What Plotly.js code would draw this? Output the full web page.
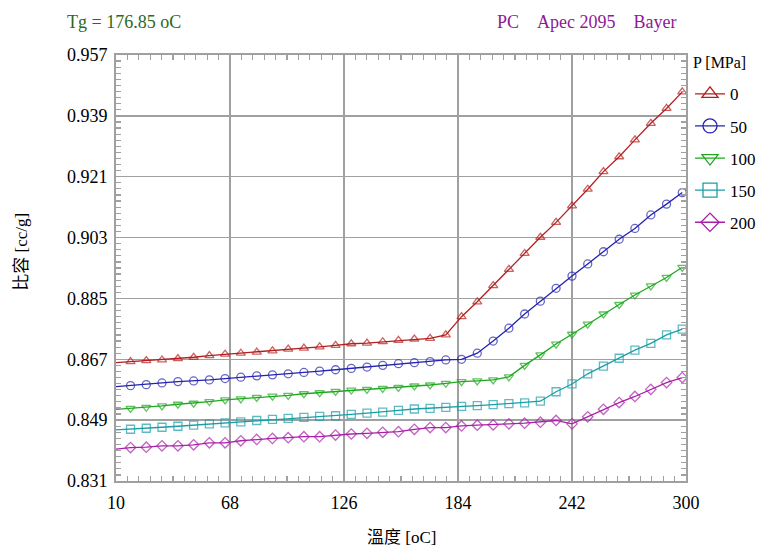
<!DOCTYPE html>
<html>
<head>
<meta charset="utf-8">
<script src="https://cdn.plot.ly/plotly-3.0.1.min.js"></script>
<style>html,body{margin:0;padding:0;background:#fff;}#chart{width:757px;height:549px;}</style>
</head>
<body>
<div id="chart"></div>
<script>
// Temperature [oC]
const temps = [10, 17.4, 25.4, 33.4, 41.5, 49.5, 57.5, 65.5, 73.5, 81.6, 89.6, 97.6, 105.6, 113.6, 121.7, 129.7, 137.7, 145.7, 153.7, 161.8, 169.8, 177.8, 185.8, 193.8, 201.9, 209.9, 217.9, 225.9, 233.9, 242.0, 250.0, 258.0, 266.0, 274.0, 282.1, 290.1, 298.1];
// Specific volume [cc/g] by pressure
const p0 = [0.8660, 0.8663, 0.8666, 0.8668, 0.8672, 0.8676, 0.8681, 0.8685, 0.8688, 0.8691, 0.8695, 0.8700, 0.8703, 0.8707, 0.8711, 0.8716, 0.8718, 0.8722, 0.8726, 0.8730, 0.8732, 0.8742, 0.8796, 0.8840, 0.8888, 0.8936, 0.8983, 0.9031, 0.9075, 0.9124, 0.9173, 0.9225, 0.9269, 0.9319, 0.9368, 0.9412, 0.9461];
const p50 = [0.8589, 0.8592, 0.8595, 0.8600, 0.8604, 0.8606, 0.8609, 0.8613, 0.8617, 0.8621, 0.8624, 0.8627, 0.8631, 0.8635, 0.8639, 0.8643, 0.8647, 0.8652, 0.8657, 0.8660, 0.8663, 0.8668, 0.8670, 0.8688, 0.8724, 0.8762, 0.8804, 0.8842, 0.8880, 0.8916, 0.8952, 0.8988, 0.9025, 0.9057, 0.9097, 0.9129, 0.9163];
const p100 = [0.8522, 0.8525, 0.8528, 0.8532, 0.8537, 0.8540, 0.8545, 0.8550, 0.8553, 0.8557, 0.8561, 0.8563, 0.8568, 0.8571, 0.8575, 0.8579, 0.8581, 0.8584, 0.8587, 0.8591, 0.8594, 0.8599, 0.8604, 0.8606, 0.8609, 0.8618, 0.8652, 0.8683, 0.8715, 0.8744, 0.8774, 0.8804, 0.8832, 0.8860, 0.8887, 0.8912, 0.8942];
const p150 = [0.8461, 0.8463, 0.8466, 0.8469, 0.8472, 0.8475, 0.8479, 0.8482, 0.8485, 0.8489, 0.8492, 0.8495, 0.8498, 0.8501, 0.8503, 0.8507, 0.8511, 0.8514, 0.8519, 0.8523, 0.8525, 0.8528, 0.8531, 0.8533, 0.8536, 0.8539, 0.8541, 0.8546, 0.8574, 0.8597, 0.8627, 0.8650, 0.8673, 0.8697, 0.8717, 0.8742, 0.8759];
const p200 = [0.8404, 0.8409, 0.8410, 0.8414, 0.8414, 0.8417, 0.8423, 0.8423, 0.8429, 0.8433, 0.8436, 0.8438, 0.8441, 0.8441, 0.8446, 0.8449, 0.8451, 0.8454, 0.8456, 0.8463, 0.8468, 0.8468, 0.8473, 0.8475, 0.8476, 0.8479, 0.8481, 0.8484, 0.8489, 0.8479, 0.8500, 0.8522, 0.8542, 0.8560, 0.8581, 0.8601, 0.8616];

const seriesNames = ['0', '50', '100', '150', '200'];
const seriesValues = [p0, p50, p100, p150, p200];
const xTickVals = [10, 68, 126, 184, 242, 300];
const yTickVals = [0.831, 0.849, 0.867, 0.885, 0.903, 0.921, 0.939, 0.957];

const colors = ['#b41e1e', '#2323b0', '#1fa81f', '#1a9ea6', '#a820a8'];
const symbols = ['triangle-up-open', 'circle-open', 'triangle-down-open', 'square-open', 'diamond-open'];
const serif = '"Liberation Serif", "Times New Roman", serif';
const cjk = '"Liberation Serif", "Noto Sans CJK TC", serif';

const markerSizes = temps.map((t, i) => i === 0 ? 0 : 8);

const traces = [];
seriesValues.forEach((vals, s) => {
  traces.push({
    x: temps, y: vals, type: 'scatter', mode: 'lines+markers',
    name: seriesNames[s], showlegend: false,
    line: {color: colors[s], width: 1.3},
    marker: {symbol: symbols[s], size: markerSizes, color: colors[s], line: {color: colors[s], width: 1.3}},
    hoverinfo: 'x+y'
  });
});
seriesValues.forEach((vals, s) => {
  traces.push({
    x: [null], y: [null], type: 'scatter', mode: 'lines+markers',
    name: seriesNames[s], legendgroup: 'g' + s, showlegend: true,
    line: {color: colors[s], width: 1.3},
    marker: {symbol: symbols[s], size: 14, color: colors[s], line: {color: colors[s], width: 1.3}},
    hoverinfo: 'skip'
  });
});

const gridC = '#a0a0a0';
const layout = {
  width: 757, height: 549,
  margin: {l: 116, r: 71, t: 55, b: 68},
  paper_bgcolor: '#ffffff', plot_bgcolor: '#ffffff',
  font: {family: serif, size: 17, color: '#000'},
  showlegend: true,
  legend: {
    xref: 'container', x: 690 / 757, xanchor: 'left',
    yref: 'paper', y: 0.95, yanchor: 'top',
    bgcolor: 'rgba(0,0,0,0)', borderwidth: 0,
    traceorder: 'grouped', tracegroupgap: 7,
    font: {family: serif, size: 17, color: '#000'}
  },
  xaxis: {
    range: [10, 300], tickvals: xTickVals, ticktext: xTickVals.map(String),
    showgrid: true, gridcolor: gridC, gridwidth: 1.5,
    showline: true, linecolor: gridC, linewidth: 2, mirror: 'ticks',
    ticks: 'inside', ticklen: 5, tickcolor: gridC, tickwidth: 1.2,
    minor: {tick0: 10, dtick: 5.8, ticks: 'inside', ticklen: 5, tickcolor: gridC, tickwidth: 1.2, showgrid: false},
    tickfont: {family: serif, size: 18, color: '#000'},
    ticklabelstandoff: 4,
    zeroline: false, fixedrange: true
  },
  yaxis: {
    range: [0.831, 0.957], tickvals: yTickVals, ticktext: yTickVals.map(v => v.toFixed(3)),
    showgrid: true, gridcolor: gridC, gridwidth: 1.5,
    showline: true, linecolor: gridC, linewidth: 2, mirror: 'ticks',
    ticks: 'inside', ticklen: 5, tickcolor: gridC, tickwidth: 1.2,
    minor: {tick0: 0.831, dtick: 0.0018, ticks: 'inside', ticklen: 5, tickcolor: gridC, tickwidth: 1.2, showgrid: false},
    tickfont: {family: serif, size: 18, color: '#000'},
    ticklabelstandoff: 3,
    zeroline: false, fixedrange: true
  },
  annotations: [
    {text: 'Tg = 176.85 oC', xref: 'paper', yref: 'paper', x: -0.09, y: 1.077, xanchor: 'left', yanchor: 'middle', showarrow: false,
     font: {family: serif, size: 18, color: '#2a6a22'}},
    {text: 'PC\u00a0\u00a0\u00a0\u00a0Apec 2095\u00a0\u00a0\u00a0\u00a0Bayer', xref: 'paper', yref: 'paper', x: 0.986, y: 1.077, xanchor: 'right', yanchor: 'middle', showarrow: false,
     font: {family: serif, size: 18, color: '#8e1a96'}},
    {text: 'P [MPa]', xref: 'paper', yref: 'paper', x: (691 - 116) / 570, y: (481 - 62) / 426, xanchor: 'left', yanchor: 'middle', showarrow: false,
     font: {family: serif, size: 16, color: '#000'}},
    {text: '溫度 [oC]', xref: 'paper', yref: 'paper', x: 0.5, y: -0.132, xanchor: 'center', yanchor: 'middle', showarrow: false,
     font: {family: cjk, size: 17, color: '#000'}},
    {text: '比容 [cc/g]', xref: 'paper', yref: 'paper', x: -0.165, y: 0.538, xanchor: 'center', yanchor: 'middle', textangle: -90, showarrow: false,
     font: {family: cjk, size: 17, color: '#000'}}
  ]
};

Plotly.newPlot('chart', traces, layout, {displayModeBar: false, staticPlot: true});
</script>
</body>
</html>
